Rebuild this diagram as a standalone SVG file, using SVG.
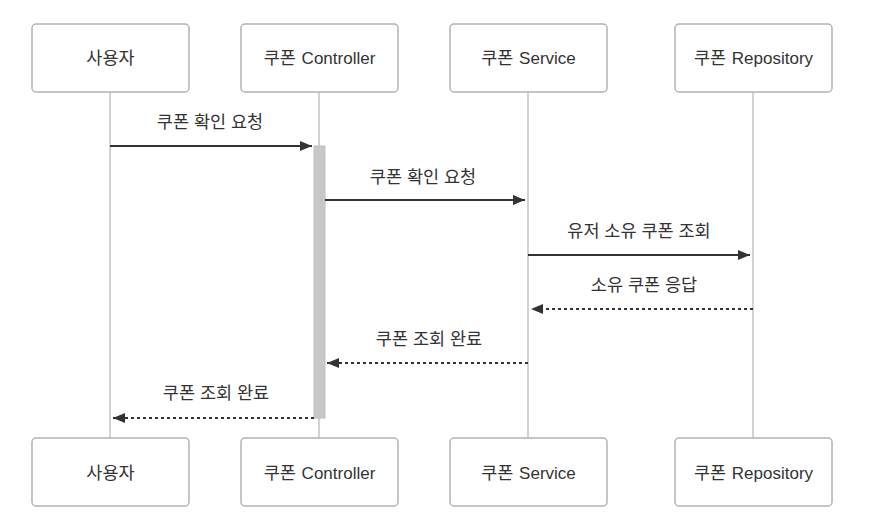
<svg xmlns="http://www.w3.org/2000/svg" width="871" height="530" viewBox="0 0 871 530">
<defs>
<style>
.actor{fill:#fff;stroke:#b3b3b3;stroke-width:1.5}
.life{stroke:#c4c4c4;stroke-width:1.5}
.t{font-family:"Liberation Sans","Noto Sans CJK KR",sans-serif;font-size:17px;fill:#333;text-anchor:middle;dominant-baseline:central}
.k{font-size:17.5px}
.msg{stroke:#333;stroke-width:2;fill:none}
.dash{stroke-dasharray:3,3}
.act{fill:#c8c8c8;stroke:#c0c0c0;stroke-width:1}
</style>
<marker id="ah" viewBox="0 0 12 10" refX="12" refY="5" markerWidth="12" markerHeight="10" markerUnits="userSpaceOnUse" orient="auto">
<path d="M0,0 L12,5 L0,10 z" fill="#333"/>
</marker>
</defs>
<rect width="871" height="530" fill="#fff"/>
<g id="lifelines">
<line class="life" x1="110" y1="92" x2="110" y2="438"/>
<line class="life" x1="319" y1="92" x2="319" y2="438"/>
<line class="life" x1="528" y1="92" x2="528" y2="438"/>
<line class="life" x1="753" y1="92" x2="753" y2="438"/>
</g>
<g id="activation"><rect class="act" x="314" y="146" width="11" height="272"/></g>
<g id="actor-user-top"><rect class="actor" x="32" y="24" width="157" height="68" rx="4"/><text class="t k" x="110.5" y="58">사용자</text></g>
<g id="actor-controller-top"><rect class="actor" x="241" y="24" width="157" height="68" rx="4"/><text class="t" x="319.5" y="58"><tspan class="k">쿠폰</tspan><tspan dx="1"> Controller</tspan></text></g>
<g id="actor-service-top"><rect class="actor" x="450" y="24" width="157" height="68" rx="4"/><text class="t" x="528.5" y="58"><tspan class="k">쿠폰</tspan><tspan dx="1"> Service</tspan></text></g>
<g id="actor-repo-top"><rect class="actor" x="675" y="24" width="157" height="68" rx="4"/><text class="t" x="753.5" y="58"><tspan class="k">쿠폰</tspan><tspan dx="1"> Repository</tspan></text></g>
<g id="actor-user-bottom"><rect class="actor" x="32" y="438" width="157" height="68" rx="4"/><text class="t k" x="110.5" y="473">사용자</text></g>
<g id="actor-controller-bottom"><rect class="actor" x="241" y="438" width="157" height="68" rx="4"/><text class="t" x="319.5" y="473"><tspan class="k">쿠폰</tspan><tspan dx="1"> Controller</tspan></text></g>
<g id="actor-service-bottom"><rect class="actor" x="450" y="438" width="157" height="68" rx="4"/><text class="t" x="528.5" y="473"><tspan class="k">쿠폰</tspan><tspan dx="1"> Service</tspan></text></g>
<g id="actor-repo-bottom"><rect class="actor" x="675" y="438" width="157" height="68" rx="4"/><text class="t" x="753.5" y="473"><tspan class="k">쿠폰</tspan><tspan dx="1"> Repository</tspan></text></g>
<g id="connectors">
<line class="msg" x1="110" y1="146" x2="312" y2="146" marker-end="url(#ah)"/>
<text class="t k" x="210" y="122">쿠폰 확인 요청</text>
<line class="msg" x1="325" y1="200" x2="525" y2="200" marker-end="url(#ah)"/>
<text class="t k" x="423" y="177">쿠폰 확인 요청</text>
<line class="msg" x1="528" y1="255" x2="750" y2="255" marker-end="url(#ah)"/>
<text class="t k" x="639" y="231">유저 소유 쿠폰 조회</text>
<line class="msg dash" x1="753" y1="309" x2="531" y2="309" marker-end="url(#ah)"/>
<text class="t k" x="644" y="285">소유 쿠폰 응답</text>
<line class="msg dash" x1="528" y1="363" x2="327" y2="363" marker-end="url(#ah)"/>
<text class="t k" x="429" y="339">쿠폰 조회 완료</text>
<line class="msg dash" x1="314" y1="418" x2="113" y2="418" marker-end="url(#ah)"/>
<text class="t k" x="216" y="393">쿠폰 조회 완료</text>
</g>
</svg>
